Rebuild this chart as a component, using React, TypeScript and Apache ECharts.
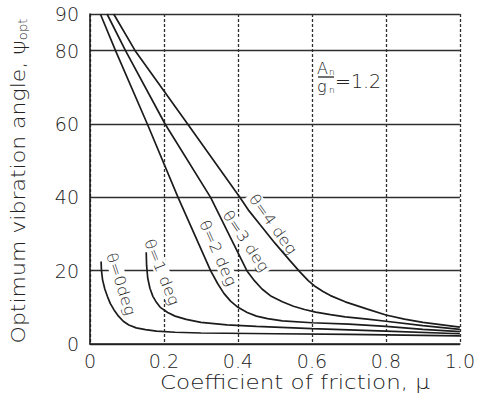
import React, { useEffect, useRef } from "react";
import * as echarts from "echarts";

// ---- data ----
const xTickValues = [0, 0.2, 0.4, 0.6, 0.8, 1.0];
const yTickValues = [0, 20, 40, 60, 80, 90];
const curveNames = ["θ=0deg", "θ=1 deg", "θ=2 deg", "θ=3 deg", "θ=4 deg"];

const theta0 = [
  [0.03, 22.5], [0.031, 20], [0.034, 17.5], [0.04, 15], [0.047, 13], [0.055, 11],
  [0.065, 9.3], [0.077, 7.6], [0.09, 6.2], [0.105, 5.2], [0.125, 4.4], [0.15, 3.9],
  [0.18, 3.5], [0.23, 3.2], [0.3, 3.0], [0.5, 2.8], [0.7, 2.6], [1.0, 2.2],
];
const theta1 = [
  [0.152, 25], [0.153, 21.5], [0.156, 18], [0.162, 15.2], [0.17, 13], [0.18, 11.3],
  [0.19, 10], [0.21, 8.6], [0.23, 7.6], [0.26, 6.7], [0.3, 5.9], [0.37, 5.2],
  [0.45, 4.8], [0.6, 4.2], [0.8, 3.5], [1.0, 2.8],
];
const theta2 = [
  [0.028, 90], [0.069, 80], [0.155, 60], [0.238, 40], [0.326, 20], [0.345, 16.5],
  [0.362, 13.8], [0.38, 11.7], [0.4, 10], [0.425, 8.6], [0.45, 7.6], [0.48, 6.9],
  [0.52, 6.3], [0.6, 5.8], [0.7, 5.4], [0.8, 4.8], [0.9, 4.0], [1.0, 3.4],
];
const theta3 = [
  [0.046, 90], [0.096, 80], [0.203, 60], [0.326, 40], [0.424, 20], [0.445, 17.2],
  [0.465, 15], [0.49, 13], [0.52, 11.5], [0.55, 10.3], [0.58, 9.4], [0.61, 8.7],
  [0.65, 8], [0.69, 7.4], [0.75, 6.8], [0.8, 6.2], [0.9, 5.0], [1.0, 4.0],
];
const theta4 = [
  [0.064, 90], [0.122, 80], [0.264, 60], [0.405, 40], [0.43, 36.3], [0.46, 32.5],
  [0.5, 27.5], [0.54, 22.8], [0.568, 19.6], [0.59, 17.3], [0.61, 15.6], [0.63, 14.3],
  [0.65, 13.2], [0.69, 11.5], [0.75, 9.5], [0.8, 7.9], [0.85, 6.8], [0.9, 5.9], [1.0, 4.6],
];
const curves = [theta0, theta1, theta2, theta3, theta4];

const xTitle = "Coefficient of friction, μ";
const yTitle = "Optimum vibration angle, ψ{s|opt}";
const ratioTop = "A";
const ratioBottom = "g";
const ratioSub = "n";
const ratioValue = "=1.2";

// ---- layout for the curve labels (pixel centre, clockwise angle) ----
const labelLayout = [
  { x: 121, y: 284, deg: 72 },
  { x: 162, y: 272, deg: 68 },
  { x: 218, y: 253, deg: 66 },
  { x: 246, y: 241, deg: 56 },
  { x: 273, y: 224, deg: 54 },
];

export default function App() {
  const ref = useRef<HTMLDivElement>(null);

  useEffect(() => {
    const chart = echarts.init(ref.current!, null, { renderer: "svg" });
    const font = "DejaVu Sans";
    const weight = 200;
    const ink = "#222222";
    const line = "#1c1c1c";

    const series = curves.map((data, i) => ({
      type: "line",
      name: curveNames[i],
      data,
      symbol: "none",
      showSymbol: false,
      smooth: false,
      silent: true,
      z: 3,
      lineStyle: { color: line, width: 1.7 },
    }));

    const curveLabels = curveNames.map((t, i) => ({
      type: "text",
      x: labelLayout[i].x,
      y: labelLayout[i].y,
      rotation: (-labelLayout[i].deg * Math.PI) / 180,
      scaleX: 1.1,
      z: 1,
      style: {
        text: t,
        fontSize: 15,
        fontFamily: font,
        fontWeight: weight,
        fill: ink,
        align: "center",
        verticalAlign: "middle",
        backgroundColor: "#ffffff",
        padding: [0, 2],
      },
    }));

    chart.setOption({
      animation: false,
      backgroundColor: "#ffffff",
      grid: { left: 90, right: 12, top: 14, bottom: 50, containLabel: false },
      xAxis: {
        type: "value",
        min: xTickValues[0],
        max: xTickValues[xTickValues.length - 1],
        interval: 0.2,
        axisLine: { show: true, lineStyle: { color: line, width: 1.6 } },
        axisTick: { show: false },
        splitLine: { show: true, lineStyle: { color: "#2e2e2e", width: 1.3, type: [3, 2] } },
        axisLabel: {
          margin: 7,
          fontSize: 19,
          fontFamily: font,
          fontWeight: weight,
          color: ink,
          formatter: (v: number) => (v === 0 ? "0" : v.toFixed(1)),
        },
      },
      yAxis: {
        type: "value",
        min: yTickValues[0],
        max: yTickValues[yTickValues.length - 1],
        interval: 20,
        axisLine: { show: true, lineStyle: { color: line, width: 1.6 } },
        axisTick: { show: false },
        splitLine: { show: true, lineStyle: { color: "#2e2e2e", width: 1.3 } },
        axisLabel: {
          margin: 11,
          fontSize: 19,
          fontFamily: font,
          fontWeight: weight,
          color: ink,
        },
      },
      series,
      graphic: [
        ...curveLabels,
        {
          type: "text",
          x: 18,
          y: 181,
          rotation: Math.PI / 2,
          scaleX: 1.1,
          style: {
            text: yTitle,
            fontSize: 20,
            fontFamily: font,
            fontWeight: weight,
            fill: ink,
            align: "center",
            verticalAlign: "middle",
            rich: { s: { fontSize: 12, fontFamily: font, fontWeight: weight, fill: ink, padding: [10, 0, 0, 0] } },
          },
        },
        {
          type: "text",
          x: 295,
          y: 382,
          scaleX: 1.15,
          style: {
            text: xTitle,
            fontSize: 20,
            fontFamily: font,
            fontWeight: weight,
            fill: ink,
            align: "center",
            verticalAlign: "middle",
          },
        },
        {
          type: "text", x: 317, y: 68, z: 1,
          style: { text: ratioTop, fontSize: 16, fontFamily: font, fontWeight: weight, fill: ink, align: "left", verticalAlign: "middle" },
        },
        {
          type: "text", x: 329, y: 72, z: 1,
          style: { text: ratioSub, fontSize: 9, fontFamily: font, fontWeight: weight, fill: ink, align: "left", verticalAlign: "middle" },
        },
        {
          type: "line", z: 1,
          shape: { x1: 318, y1: 77, x2: 334, y2: 77 },
          style: { stroke: ink, lineWidth: 1.3 },
        },
        {
          type: "text", x: 317, y: 86, z: 1,
          style: { text: ratioBottom, fontSize: 16, fontFamily: font, fontWeight: weight, fill: ink, align: "left", verticalAlign: "middle" },
        },
        {
          type: "text", x: 329, y: 90, z: 1,
          style: { text: ratioSub, fontSize: 9, fontFamily: font, fontWeight: weight, fill: ink, align: "left", verticalAlign: "middle" },
        },
        {
          type: "text", x: 335, y: 81, z: 1,
          style: { text: ratioValue, fontSize: 19, fontFamily: font, fontWeight: weight, fill: ink, align: "left", verticalAlign: "middle" },
        },
      ],
    });

    return () => chart.dispose();
  }, []);

  return (
    <div
      ref={ref}
      style={{ position: "fixed", left: 0, top: 0, width: 478, height: 394, background: "#fff" }}
    />
  );
}
